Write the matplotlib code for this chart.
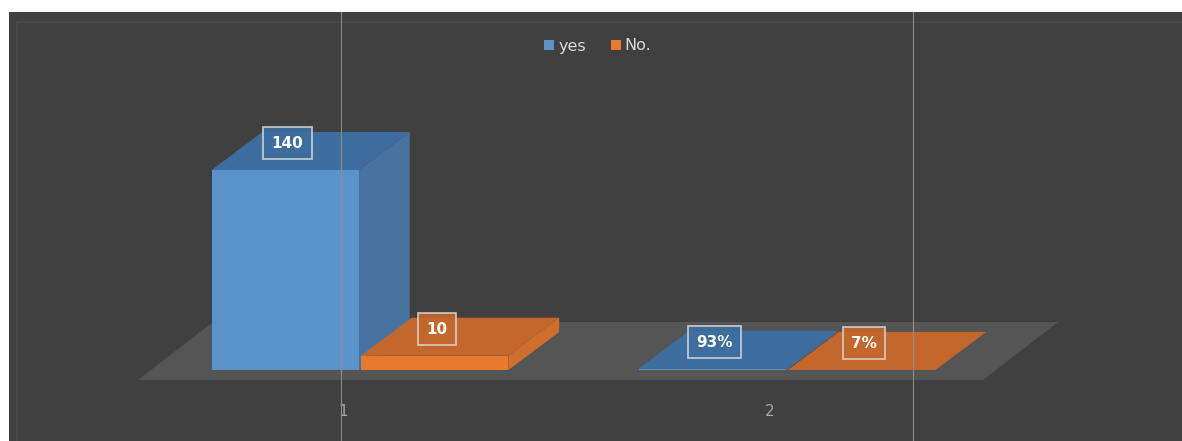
import matplotlib.pyplot as plt
from matplotlib.patches import Polygon, Rectangle, Patch
from matplotlib.lines import Line2D

categories = ['1', '2']
yes_values = [140, 0.93]
no_values = [10, 0.07]
yes_labels = ['140', '93%']
no_labels = ['10', '7%']

BG = '#404040'
FLOOR = '#555555'
BLUE = {'front': '#5a93c9', 'top': '#3e6d9f', 'side': '#4873a0'}
ORANGE = {'front': '#e8792f', 'top': '#c4672c', 'side': '#d06f2d'}

# fake-3d geometry, in data units (x = category, y = value)
BAR_W = 0.345
BAR_GAP = 0.005
DX, DY = 0.119, 26.6
FLOOR_DX, FLOOR_DY = 0.176, 40.6
FLOOR_Y = -7.0
FLOOR_X = (0.48, 2.459)

fig = plt.figure(figsize=(11.82, 4.41), dpi=100)
fig.patch.set_facecolor('white')
# dark chart area (white strip top and left)
fig.add_artist(Rectangle((9 / 1182, 0), 1, 1 - 12 / 441, transform=fig.transFigure,
                         facecolor=BG, edgecolor='none', zorder=0))
fig.add_artist(Rectangle((17 / 1182, -0.05), 1.1, 1 - 22 / 441 + 0.05, transform=fig.transFigure,
                         facecolor='none', edgecolor='#4a4a4a', lw=1.2, zorder=0.5))

ax = fig.add_axes([0, 0, 1, 1])
ax.set_facecolor('none')
ax.set_xlim(0.157, 2.925)
ax.set_ylim(-49.7, 259)
ax.axis('off')

# floor
fx0, fx1 = FLOOR_X
ax.add_patch(Polygon([(fx0, FLOOR_Y), (fx1, FLOOR_Y),
                      (fx1 + FLOOR_DX, FLOOR_Y + FLOOR_DY), (fx0 + FLOOR_DX, FLOOR_Y + FLOOR_DY)],
                     closed=True, facecolor=FLOOR, edgecolor='none', zorder=1))


def bar3d(x0, v, col, label):
    x1 = x0 + BAR_W
    ax.add_patch(Polygon([(x1, 0), (x1 + DX, DY), (x1 + DX, v + DY), (x1, v)],
                         facecolor=col['side'], edgecolor='none', zorder=2))
    ax.add_patch(Polygon([(x0, v), (x1, v), (x1 + DX, v + DY), (x0 + DX, v + DY)],
                         facecolor=col['top'], edgecolor='none', zorder=2))
    ax.add_patch(Rectangle((x0, 0), BAR_W, v, facecolor=col['front'],
                           edgecolor='none', zorder=2))
    ax.text(x0 + BAR_W / 2 + 0.005, v + DY * 0.7, label, ha='center', va='center',
            color='white', fontsize=11, fontweight='bold', zorder=4,
            bbox=dict(boxstyle='square,pad=0.55', facecolor=col['top'], alpha=0.9,
                      edgecolor='#d8d8d8', linewidth=1.2))


for i, cat in enumerate(categories):
    xc = i + 1
    bar3d(xc - BAR_W - BAR_GAP / 2, yes_values[i], BLUE, yes_labels[i])
    bar3d(xc + BAR_GAP / 2, no_values[i], ORANGE, no_labels[i])
    ax.text(xc - 0.04, -29.4, cat, ha='center', va='center',
            color='#a6a6a6', fontsize=11)

# thin vertical guide lines
for xf in (341 / 1182, 913 / 1182):
    fig.add_artist(Line2D([xf, xf], [0, 1 - 12 / 441], transform=fig.transFigure,
                          color='#8c8c8c', lw=0.8, zorder=5))

handles = [Patch(facecolor=BLUE['front'], label='yes'),
           Patch(facecolor=ORANGE['front'], label='No.')]
fig.legend(handles=handles, loc='center', bbox_to_anchor=(598 / 1182, 1 - 46 / 441),
           ncol=2, frameon=False, fontsize=11.5, labelcolor='#d9d9d9',
           handlelength=0.6, handleheight=0.6, handletextpad=0.25, columnspacing=1.6)

fig.savefig('out.png', dpi=100, facecolor=fig.get_facecolor())
